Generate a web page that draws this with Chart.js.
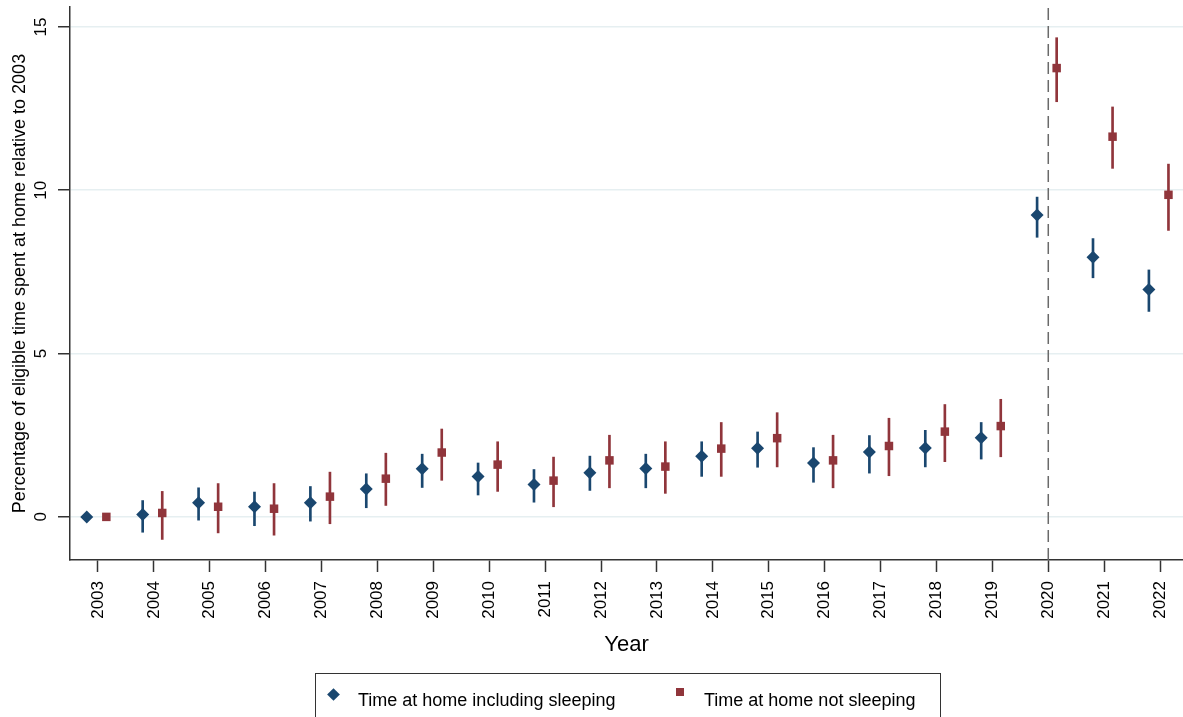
<!DOCTYPE html>
<html>
<head>
<meta charset="utf-8">
<script src="https://cdn.jsdelivr.net/npm/chart.js@4/dist/chart.umd.min.js"></script>
<style>
  html, body { margin: 0; padding: 0; background: #fff; }
  #wrap { position: relative; width: 1183px; height: 717px; overflow: hidden; }
  #legend {
    position: absolute; left: 315px; top: 673px; width: 626px; height: 60px;
    border: 1.5px solid #333; box-sizing: border-box;
    font-family: "Liberation Sans", Arial, Helvetica, sans-serif; font-size: 18px; color: #000;
  }
  #legend .txt { position: absolute; line-height: 18px; white-space: nowrap; }
  #legend .mk { position: absolute; }
</style>
</head>
<body>
<div id="wrap">
  <canvas id="chart" width="1183" height="717"></canvas>
  <div id="legend">
    <div class="mk" style="left:13px;top:16px;width:9px;height:9px;background:#1a476f;transform:rotate(45deg);"></div>
    <div class="txt" style="left:42px;top:17px;">Time at home including sleeping</div>
    <div class="mk" style="left:360px;top:14px;width:8px;height:8px;background:#90353b;"></div>
    <div class="txt" style="left:388px;top:17px;">Time at home not sleeping</div>
  </div>
</div>
<script>
// survey years and point estimates with 95% intervals
const years = [2003, 2004, 2005, 2006, 2007, 2008, 2009, 2010, 2011, 2012,
               2013, 2014, 2015, 2016, 2017, 2018, 2019, 2020, 2021, 2022];

const inclSleep = [0, 0.07, 0.43, 0.31, 0.43, 0.85, 1.47, 1.24, 0.99, 1.35,
                   1.48, 1.86, 2.10, 1.65, 1.99, 2.11, 2.42, 9.24, 7.95, 6.96];
const inclLo = [0, -0.47, -0.10, -0.27, -0.13, 0.28, 0.90, 0.67, 0.45, 0.81,
                0.89, 1.24, 1.52, 1.06, 1.34, 1.53, 1.77, 8.56, 7.32, 6.29];
const inclHi = [0, 0.50, 0.89, 0.76, 0.93, 1.32, 1.92, 1.65, 1.45, 1.86,
                1.92, 2.30, 2.60, 2.12, 2.49, 2.65, 2.89, 9.79, 8.52, 7.56];

const notSleep = [0, 0.12, 0.31, 0.25, 0.62, 1.17, 1.97, 1.60, 1.11, 1.73,
                  1.54, 2.09, 2.41, 1.73, 2.17, 2.61, 2.78, 13.74, 11.64, 9.86];
const notLo = [0, -0.69, -0.49, -0.56, -0.21, 0.35, 1.12, 0.78, 0.31, 0.89,
               0.72, 1.24, 1.53, 0.89, 1.26, 1.69, 1.84, 12.71, 10.67, 8.77];
const notHi = [0, 0.78, 1.02, 1.02, 1.37, 1.95, 2.69, 2.30, 1.83, 2.50,
               2.30, 2.89, 3.19, 2.50, 3.02, 3.44, 3.60, 14.67, 12.55, 10.80];

const yTicks = [0, 5, 10, 15];
const breakYear = 2020;
const yMin = -1.32, yMax = 15.61;
const xMin = 2002.5, xMax = 2022.41;

const NAVY = "#1a476f";
const MAROON = "#90353b";
const FONT = "'Liberation Sans', Arial, Helvetica, sans-serif";

// small horizontal shift so the two series sit side by side
const shiftIncl = -0.2;
const shiftNot = 0.15;

function points(vals, shift)
{
    return years.map((yr, i) => ({ x: yr + shift, y: vals[i] }));
}

function ranges(lo, hi, shift)
{
    return years.map((yr, i) => ({ x: yr + shift, y: [lo[i], hi[i]] }));
}

const ctx = document.getElementById("chart");
const chart = new Chart(ctx, {
    type: "scatter",
    data: {
        datasets: [
            {
                type: "scatter",
                label: "Time at home including sleeping",
                data: points(inclSleep, shiftIncl),
                pointStyle: "rectRot",
                pointRadius: 6.5,
                backgroundColor: NAVY,
                borderWidth: 0,
                order: 0
            },
            {
                type: "scatter",
                label: "Time at home not sleeping",
                data: points(notSleep, shiftNot),
                pointStyle: "rect",
                pointRadius: 6,
                backgroundColor: MAROON,
                borderWidth: 0,
                order: 0
            },
            {
                type: "bar",
                label: "ci1",
                data: ranges(inclLo, inclHi, shiftIncl),
                backgroundColor: NAVY,
                barThickness: 2,
                grouped: false,
                borderWidth: 0,
                order: 5
            },
            {
                type: "bar",
                label: "ci2",
                data: ranges(notLo, notHi, shiftNot),
                backgroundColor: MAROON,
                barThickness: 2,
                grouped: false,
                borderWidth: 0,
                order: 5
            },
            {
                type: "line",
                label: "break",
                data: [{ x: breakYear, y: yMin }, { x: breakYear, y: yMax }],
                borderColor: "#6a6a6a",
                borderWidth: 1.5,
                borderDash: [12, 6],
                pointRadius: 0,
                order: 10
            }
        ]
    },
    options: {
        responsive: false,
        animation: false,
        events: [],
        layout: { autoPadding: false, padding: { top: 7, left: 0, right: 0, bottom: 0 } },
        plugins: {
            legend: { display: false },
            tooltip: { enabled: false }
        },
        scales: {
            x: {
                type: "linear",
                min: xMin,
                max: xMax,
                offset: false,
                afterBuildTicks: s => { s.ticks = years.map(v => ({ value: v })); },
                afterFit: s => { s.height = 157; s.paddingLeft = 0; s.paddingRight = 0; },
                grid: {
                    offset: false,
                    drawOnChartArea: false,
                    tickLength: 12,
                    tickColor: "#333",
                    tickWidth: 1.5
                },
                border: { display: true, color: "#333", width: 1.5 },
                ticks: {
                    minRotation: 90,
                    maxRotation: 90,
                    padding: 9,
                    color: "#000",
                    font: { family: FONT, size: 17 },
                    callback: v => String(v)
                },
                title: {
                    display: true,
                    text: "Year",
                    color: "#000",
                    font: { family: FONT, size: 22, lineHeight: 1.2 },
                    padding: { top: 0, bottom: 59 }
                }
            },
            y: {
                type: "linear",
                min: yMin,
                max: yMax,
                afterBuildTicks: s => { s.ticks = yTicks.map(v => ({ value: v })); },
                afterFit: s => { s.width = 70; s.paddingTop = 0; s.paddingBottom = 0; },
                grid: {
                    color: "#e6eff1",
                    lineWidth: 1.5,
                    tickLength: 12,
                    tickColor: "#333",
                    tickWidth: 1.5
                },
                border: { display: true, color: "#333", width: 1.5 },
                ticks: {
                    minRotation: 90,
                    maxRotation: 90,
                    crossAlign: "center",
                    padding: 7,
                    color: "#000",
                    font: { family: FONT, size: 17 }
                },
                title: {
                    display: true,
                    text: "Percentage of eligible time spent at home relative to 2003",
                    color: "#000",
                    font: { family: FONT, size: 18, lineHeight: 1.2 },
                    padding: { top: 9, bottom: 0 }
                }
            }
        }
    }
});
</script>
</body>
</html>
